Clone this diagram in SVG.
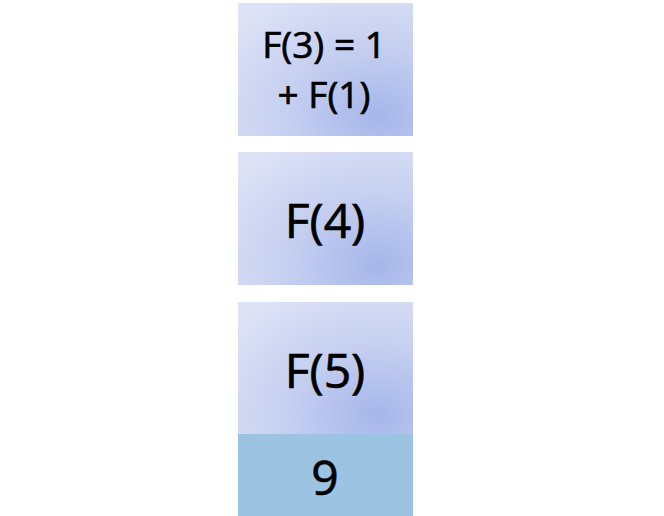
<svg xmlns="http://www.w3.org/2000/svg" width="664" height="516" viewBox="0 0 664 516">
<defs>
<radialGradient id="g" cx="0.8" cy="0.85" r="1.05" fx="0.8" fy="0.85">
<stop offset="0" stop-color="#a6b6ea"/>
<stop offset="0.5" stop-color="#c5cff0"/>
<stop offset="1" stop-color="#dde2f6"/>
</radialGradient>
<style>
.box{fill:url(#g);}
.t{font-family:"Open Sans","Noto Sans",sans-serif;fill:#000;stroke:#000;stroke-width:0.7;text-anchor:middle;}
.big{font-size:48px;}
.small{font-size:37px;}
</style>
</defs>
<rect width="664" height="516" fill="#ffffff"/>
<g id="node-f3">
<rect class="box" x="238" y="3" width="175" height="133"/>
<text class="t small" x="324" y="58">F(3) = 1</text>
<text class="t small" x="324" y="108">+ F(1)</text>
</g>
<g id="node-f4">
<rect class="box" x="238" y="152" width="175" height="133"/>
<text class="t big" x="325" y="238">F(4)</text>
</g>
<g id="node-f5">
<rect class="box" x="238" y="302" width="175" height="133"/>
<text class="t big" x="325" y="388">F(5)</text>
</g>
<g id="node-9">
<rect x="238" y="434" width="175" height="82" fill="#9dc3e2"/>
<text class="t big" x="325" y="495">9</text>
</g>
<g id="connectors"></g>
</svg>
